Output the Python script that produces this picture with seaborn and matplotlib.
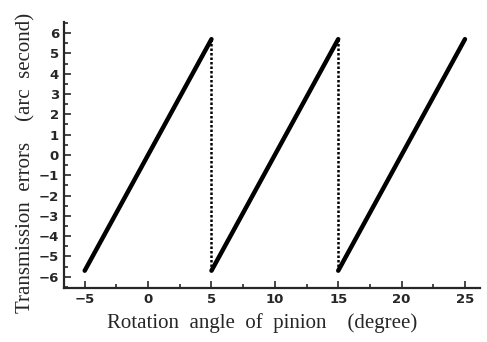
import numpy as np
import pandas as pd
import matplotlib
matplotlib.use("Agg")
import matplotlib.pyplot as plt
from matplotlib.ticker import MultipleLocator
import seaborn as sns

# ramp segments of the transmission error (degree, arc second)
ramp_id = [0, 0, 1, 1, 2, 2]
angle = [-5, 5, 5, 15, 15, 25]
error = [-5.7, 5.7, -5.7, 5.7, -5.7, 5.7]

# vertical drops at the tooth change
drop_id = [0, 0, 1, 1]
drop_angle = [5, 5, 15, 15]
drop_error = [5.7, -5.7, 5.7, -5.7]

ramps = pd.DataFrame({"seg": ramp_id, "angle": angle, "error": error})
drops = pd.DataFrame({"seg": drop_id, "angle": drop_angle, "error": drop_error})

sns.set_style("ticks")
fig = plt.figure(figsize=(4.87, 3.42), dpi=100)
ax = fig.add_axes([0.131, 0.158, 0.855, 0.778])

sns.lineplot(data=ramps, x="angle", y="error", units="seg", estimator=None,
             color="black", linewidth=3.2, sort=False, ax=ax)
sns.lineplot(data=drops, x="angle", y="error", units="seg", estimator=None,
             color="black", linewidth=1.8, linestyle=(0, (1, 0.8)), sort=False, ax=ax)

ax.set_xlim(-6.65, 26.2)
ax.set_ylim(-6.55, 6.55)
ax.xaxis.set_major_locator(MultipleLocator(5))
ax.xaxis.set_minor_locator(MultipleLocator(2.5))
ax.yaxis.set_major_locator(MultipleLocator(1))
ax.yaxis.set_minor_locator(MultipleLocator(0.5))
ax.tick_params(which="both", direction="in", width=1.2)
ax.tick_params(which="major", length=5)
ax.tick_params(which="minor", length=3)
for lab in ax.get_xticklabels() + ax.get_yticklabels():
    lab.set_fontweight("bold")
    lab.set_fontsize(9.5)
    lab.set_family("DejaVu Sans")

sns.despine(ax=ax)
ax.spines["left"].set_linewidth(1.6)
ax.spines["bottom"].set_linewidth(1.6)

ax.set_xlabel("Rotation  angle  of  pinion    (degree)", family="Liberation Serif",
              fontsize=15)
ax.set_ylabel("Transmission  errors    (arc  second)", family="Liberation Serif",
              fontsize=15)
ax.xaxis.set_label_coords(0.476, -0.095)
ax.yaxis.set_label_coords(-0.068, 0.47)

fig.savefig("out.png", dpi=100)
